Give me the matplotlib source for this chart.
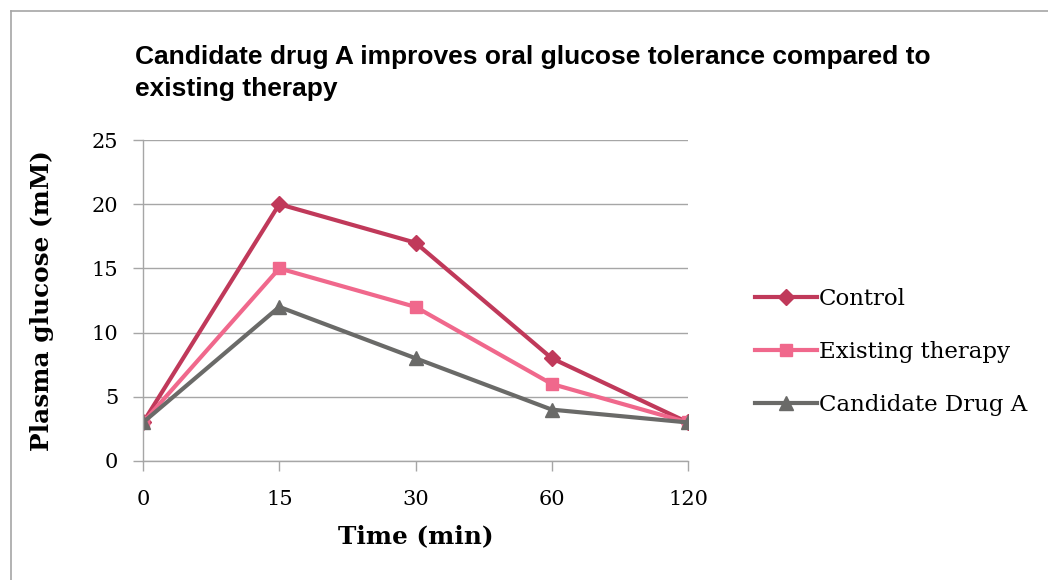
import matplotlib
matplotlib.use("Agg")
import matplotlib.pyplot as plt
from matplotlib.lines import Line2D

# Chart data
times = ["0", "15", "30", "60", "120"]
control = [3, 20, 17, 8, 3]
existing = [3, 15, 12, 6, 3]
candidate = [3, 12, 8, 4, 3]

serif = ["DejaVu Serif"]
sans = ["Liberation Sans", "Arial", "DejaVu Sans"]

fig = plt.figure(figsize=(10.48, 5.8), dpi=100)
ax = fig.add_axes([0.1365, 0.2052, 0.52, 0.5534])

x = list(range(len(times)))
ax.plot(x, control, color="#C0395A", lw=3, marker="D", ms=8, label="Control")
ax.plot(x, existing, color="#F0688C", lw=3, marker="s", ms=9, label="Existing therapy")
ax.plot(x, candidate, color="#6A6A68", lw=3, marker="^", ms=10, label="Candidate Drug A")

ax.set_xlim(0, len(times) - 1)
ax.set_ylim(0, 25)
ax.set_yticks(range(0, 26, 5))
ax.set_xticks(x)
ax.set_xticklabels(times)
ax.grid(axis="y", color="#A6A6A6", lw=1)
ax.set_axisbelow(True)

for s in ["top", "right"]:
    ax.spines[s].set_visible(False)
for s in ["left", "bottom"]:
    ax.spines[s].set_color("#A6A6A6")
    ax.spines[s].set_linewidth(1)
ax.tick_params(axis="both", color="#A6A6A6", length=7, width=1)
ax.tick_params(axis="y", pad=11)
ax.tick_params(axis="x", pad=14)
for lab in ax.get_xticklabels() + ax.get_yticklabels():
    lab.set_family(serif)
    lab.set_fontsize(15)

ax.set_xlabel("Time (min)", family=serif, fontsize=17.8, fontweight="bold", labelpad=11)
ax.set_ylabel("Plasma glucose (mM)", family=serif, fontsize=17.8, fontweight="bold", labelpad=27)

fig.text(135 / 1048, 1 - 45 / 580, "Candidate drug A improves oral glucose tolerance compared to\nexisting therapy",
         family=sans, fontsize=19, fontweight="bold", va="top", ha="left", linespacing=1.42)

ax.legend(loc="center left", bbox_to_anchor=(1.085, 0.34), frameon=False,
          prop={"family": serif, "size": 16.5}, handlelength=2.7, labelspacing=1.35,
          handletextpad=0.1)

# outer chart border
fig.add_artist(Line2D([11 / 1048, 11 / 1048], [0, 1 - 11 / 580], transform=fig.transFigure,
                      color="#A6A6A6", lw=1.2))
fig.add_artist(Line2D([11 / 1048, 1], [1 - 11 / 580, 1 - 11 / 580], transform=fig.transFigure,
                      color="#A6A6A6", lw=1.2))

fig.savefig("out.png", dpi=100)
